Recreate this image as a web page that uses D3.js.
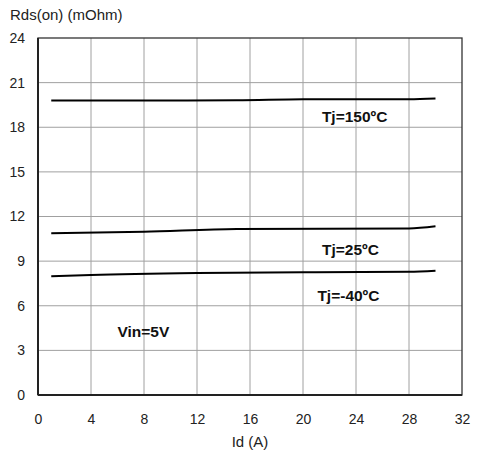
<!DOCTYPE html>
<html><head><meta charset="utf-8">
<script src="https://cdn.jsdelivr.net/npm/d3@7"></script>
<style>body{margin:0;background:#fff}svg{display:block}text{font-family:"Liberation Sans",Arial,sans-serif}</style>
</head><body>
<svg id="c" width="478" height="458"></svg>
<script>
const xTicks = [0,4,8,12,16,20,24,28,32];
const yTicks = [0,3,6,9,12,15,18,21,24];
const s150 = [[1,19.8],[8,19.8],[15,19.81],[20,19.88],[28,19.88],[30,19.93]];
const s25 = [[1,10.87],[8,10.97],[15,11.16],[28,11.2],[30,11.34]];
const sm40 = [[1,7.98],[4,8.07],[12,8.2],[20,8.25],[28,8.28],[30,8.36]];
const curveLabels = ["Tj=150ºC","Tj=25ºC","Tj=-40ºC"];
const labelPos = [[23.9,18.33],[23.58,9.41],[23.43,6.32]];

const svg = d3.select("#c");
const L=38,R=462,T=38,B=395;
const x = d3.scaleLinear().domain([0,32]).range([L,R]);
const y = d3.scaleLinear().domain([0,24]).range([B,T]);

// grid
svg.append("g").selectAll("line").data(xTicks.slice(1,-1)).join("line")
  .attr("x1",d=>x(d)).attr("x2",d=>x(d)).attr("y1",T).attr("y2",B)
  .attr("stroke","#a0a0a0").attr("stroke-width",1);
svg.append("g").selectAll("line").data(yTicks.slice(1,-1)).join("line")
  .attr("y1",d=>y(d)).attr("y2",d=>y(d)).attr("x1",L).attr("x2",R)
  .attr("stroke","#a0a0a0").attr("stroke-width",1);

// border
svg.append("rect").attr("x",L).attr("y",T).attr("width",R-L).attr("height",B-T)
  .attr("fill","none").attr("stroke","#333").attr("stroke-width",1.3);
svg.append("line").attr("x1",L).attr("x2",L).attr("y1",T).attr("y2",B).attr("stroke","#222").attr("stroke-width",2);
svg.append("line").attr("x1",L).attr("x2",R).attr("y1",B).attr("y2",B).attr("stroke","#222").attr("stroke-width",2);

const ax = svg.append("g").attr("transform",`translate(0,${B})`)
  .call(d3.axisBottom(x).tickValues(xTicks).tickSize(0).tickPadding(19));
ax.select(".domain").remove();
ax.selectAll("text").attr("font-size",14).attr("fill","#222").attr("font-family","Liberation Sans, Arial, sans-serif");
const ay = svg.append("g").attr("transform",`translate(${L},0)`)
  .call(d3.axisLeft(y).tickValues(yTicks).tickSize(0).tickPadding(13));
ay.select(".domain").remove();
ay.selectAll("text").attr("font-size",14).attr("fill","#222").attr("font-family","Liberation Sans, Arial, sans-serif");

svg.append("text").attr("x",10).attr("y",20).attr("font-size",15).attr("fill","#222").text("Rds(on) (mOhm)");
svg.append("text").attr("x",250).attr("y",447).attr("text-anchor","middle").attr("font-size",15).attr("fill","#222").text("Id (A)");

const line = d3.line().x(d=>x(d[0])).y(d=>y(d[1])).curve(d3.curveMonotoneX);
[s150,s25,sm40].forEach(s=>{
  svg.append("path").datum(s).attr("d",line).attr("fill","none").attr("stroke","#000").attr("stroke-width",2);
});
curveLabels.forEach((t,i)=>{
  svg.append("text").attr("x",x(labelPos[i][0])).attr("y",y(labelPos[i][1]))
    .attr("text-anchor","middle").attr("font-size",15.5).attr("font-weight","bold").attr("fill","#111").text(t);
});
svg.append("text").attr("x",x(7.95)).attr("y",y(3.92)).attr("text-anchor","middle")
  .attr("font-size",15.5).attr("font-weight","bold").attr("fill","#111").text("Vin=5V");
</script>
</body></html>
